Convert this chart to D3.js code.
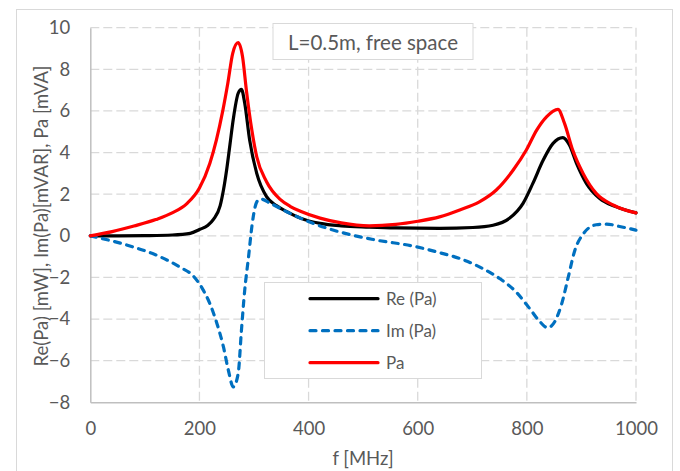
<html>
	<head>
		<title>Pa vs f</title>
		<script src="https://d3js.org/d3.v7.min.js" charset="utf-8"></script>
		<style>
		body {
			margin: 0;
			background: white;
			font-family: "Lato", "Open Sans", sans-serif;
			}
		text {
			fill: #595959;
			}
		</style>
	</head>
	<body>
	<script>
	//size of the window
		var width = 680;
		var height = 471;

	//axis ticks
		var xTicks = [0, 200, 400, 600, 800, 1000];
		var yTicks = [-8, -6, -4, -2, 0, 2, 4, 6, 8, 10];

	//Re (Pa)
		var reFreq = [0, 50, 100, 150, 183, 200, 215, 226, 238, 244, 250, 256, 262, 271, 277, 283, 292, 305, 323, 341, 361, 385, 421, 460, 511, 560, 640, 701, 738, 768, 793, 811, 830, 848, 866, 878, 891, 909, 933, 964, 1000];
		var reVal = [0, 0, 0.01, 0.04, 0.12, 0.3, 0.5, 0.8, 1.45, 2.2, 3.2, 4.4, 5.6, 6.85, 7.04, 6.37, 4.6, 3.0, 1.88, 1.45, 1.15, 0.85, 0.6, 0.48, 0.42, 0.38, 0.36, 0.4, 0.51, 0.84, 1.56, 2.52, 3.64, 4.44, 4.72, 4.36, 3.48, 2.52, 1.8, 1.39, 1.1];

	//Im (Pa)
		var imFreq = [0, 74, 129, 164, 189, 207, 219, 232, 244, 253, 262, 271, 277, 283, 290, 296, 302, 308, 313, 330, 366, 408, 455, 519, 598, 640, 677, 713, 750, 780, 805, 824, 838, 851, 864, 876, 888, 903, 927, 946, 970, 1000];
		var imVal = [0, -0.5, -1.02, -1.5, -1.94, -2.61, -3.25, -4.21, -5.34, -6.46, -7.26, -6.62, -4.53, -2.61, -1.01, 0.43, 1.39, 1.72, 1.76, 1.56, 1.08, 0.6, 0.2, -0.18, -0.53, -0.81, -1.09, -1.49, -2.05, -2.69, -3.49, -4.13, -4.42, -4.13, -3.25, -1.97, -0.69, 0.08, 0.53, 0.56, 0.45, 0.27];

	//Pa
		var paFreq = [0, 40, 80, 120, 150, 177, 200, 219, 231, 243, 252, 261, 271, 279, 286, 296, 305, 323, 348, 366, 385, 421, 460, 511, 560, 600, 640, 677, 713, 744, 775, 799, 818, 836, 857, 869, 884, 903, 927, 958, 1000];
		var paVal = [0, 0.2, 0.47, 0.78, 1.1, 1.55, 2.3, 3.48, 4.6, 6.04, 7.33, 8.77, 9.28, 8.6, 7.0, 5.08, 3.8, 2.6, 1.75, 1.42, 1.18, 0.85, 0.62, 0.48, 0.55, 0.7, 0.91, 1.24, 1.63, 2.2, 3.16, 4.12, 5.08, 5.72, 6.08, 5.4, 4.12, 3.0, 2.04, 1.48, 1.1];

		var seriesNames = ["Re (Pa)", "Im (Pa)", "Pa"];
		var titleText = "L=0.5m, free space";
		var xTitle = "f [MHz]";
		var yTitle = "Re(Pa) [mW], Im(Pa)[mVAR], Pa [mVA]";

	//plot area (plotTop, not "top": that one belongs to window)
		var plotLeft = 90.3, plotRight = 636, plotTop = 27.7, plotBottom = 402.3;

		var x = d3.scaleLinear().domain([0, 1000]).range([plotLeft, plotRight]);
		var y = d3.scaleLinear().domain([-8, 10]).range([plotBottom, plotTop]);

		var svg = d3.select("body")
			.append("svg")
			.attr("width", width)
			.attr("height", height);

	//outer chart border
		svg.append("rect")
			.attr("x", 16.5).attr("y", 9.5)
			.attr("width", 656).attr("height", 475)
			.attr("fill", "white")
			.attr("stroke", "#d9d9d9");

	//dashed gridlines
		var grid = svg.append("g");
		grid.selectAll(".hg")
			.data(yTicks.filter(function(d) { return d > -8; }))
			.enter()
			.append("line")
			.attr("x1", plotLeft).attr("x2", plotRight)
			.attr("y1", function(d) { return y(d); })
			.attr("y2", function(d) { return y(d); })
			.attr("stroke", "#d9d9d9")
			.attr("stroke-width", 1.3)
			.attr("stroke-dasharray", "9,4");
		grid.selectAll(".vg")
			.data(xTicks.filter(function(d) { return d > 0; }))
			.enter()
			.append("line")
			.attr("y1", plotTop).attr("y2", plotBottom)
			.attr("x1", function(d) { return x(d); })
			.attr("x2", function(d) { return x(d); })
			.attr("stroke", "#d9d9d9")
			.attr("stroke-width", 1.3)
			.attr("stroke-dasharray", "9,4");

	//axes (lines and labels, no tick marks)
		var xAxis = svg.append("g")
			.attr("transform", "translate(0," + plotBottom + ")")
			.call(d3.axisBottom(x).tickValues(xTicks).tickFormat(d3.format("d")).tickSize(0).tickPadding(20));
		var yAxis = svg.append("g")
			.attr("transform", "translate(" + plotLeft + ",0)")
			.call(d3.axisLeft(y).tickValues(yTicks).tickFormat(d3.format("d")).tickSize(0).tickPadding(20));
		[xAxis, yAxis].forEach(function(a) {
			a.select(".domain").attr("stroke", "#bfbfbf").attr("stroke-width", 1.5);
			a.selectAll("text")
				.attr("fill", "#595959")
				.style("font-family", "Lato, sans-serif")
				.style("font-size", "18.5px");
		});

	//curves
		var line = d3.line()
			.x(function(d) { return x(d[0]); })
			.y(function(d) { return y(d[1]); })
			.curve(d3.curveMonotoneX);

		var curves = [
			{ f: reFreq, v: reVal, color: "#000000", dash: null },
			{ f: imFreq, v: imVal, color: "#0070c0", dash: "6,6.5" },
			{ f: paFreq, v: paVal, color: "#ff0000", dash: null }
		];

		svg.append("g").selectAll("path")
			.data(curves)
			.enter()
			.append("path")
			.attr("d", function(c) { return line(d3.zip(c.f, c.v)); })
			.attr("fill", "none")
			.attr("stroke", function(c) { return c.color; })
			.attr("stroke-width", 3.2)
			.attr("stroke-linecap", "round")
			.attr("stroke-linejoin", "round")
			.attr("stroke-dasharray", function(c) { return c.dash; });

	//title box
		svg.append("rect")
			.attr("x", 273).attr("y", 23.5)
			.attr("width", 200).attr("height", 36)
			.attr("fill", "white")
			.attr("stroke", "#d9d9d9");
		svg.append("text")
			.attr("x", 373).attr("y", 42)
			.attr("text-anchor", "middle")
			.attr("dominant-baseline", "central")
			.style("font-size", "20.5px")
			.text(titleText);

	//legend
		svg.append("rect")
			.attr("x", 264.5).attr("y", 282.5)
			.attr("width", 217).attr("height", 96)
			.attr("fill", "white")
			.attr("stroke", "#d9d9d9");
		var legend = svg.append("g").selectAll("g")
			.data(curves)
			.enter()
			.append("g")
			.attr("transform", function(c, i) { return "translate(0," + (298.7 + i * 32) + ")"; });
		legend.append("line")
			.attr("x1", 310).attr("x2", 378)
			.attr("stroke", function(c) { return c.color; })
			.attr("stroke-width", 3.2)
			.attr("stroke-linecap", "round")
			.attr("stroke-dasharray", function(c) { return c.dash; });
		legend.append("text")
			.attr("x", 386)
			.attr("dominant-baseline", "central")
			.style("font-size", "17px")
			.text(function(c, i) { return seriesNames[i]; });

	//axis titles
		svg.append("text")
			.attr("x", 363).attr("y", 458)
			.attr("text-anchor", "middle")
			.attr("dominant-baseline", "central")
			.style("font-size", "18.5px")
			.text(xTitle);
		svg.append("text")
			.attr("transform", "translate(41,216) rotate(-90)")
			.attr("text-anchor", "middle")
			.attr("dominant-baseline", "central")
			.style("font-size", "18.5px")
			.text(yTitle);
	</script>
	</body>
</html>
